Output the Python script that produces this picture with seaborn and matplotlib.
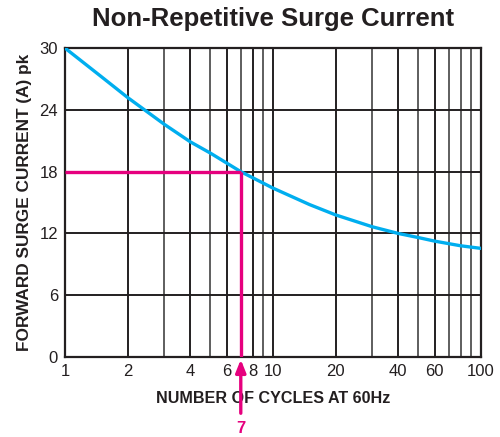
import matplotlib
matplotlib.use("Agg")
import matplotlib.pyplot as plt
import seaborn as sns
import pandas as pd
from matplotlib.ticker import FixedLocator, NullFormatter

# Surge current curve (cycles at 60 Hz vs peak forward surge current)
cycles = [1, 1.5, 2, 3, 4, 5, 7, 10, 15, 20, 30, 40, 50, 60, 80, 100]
current = [30.0, 27.2, 25.2, 22.6, 20.9, 19.8, 18.0, 16.4, 14.8, 13.8, 12.65, 12.0,
           11.6, 11.25, 10.8, 10.55]

x_ticks = [1, 2, 4, 6, 8, 10, 20, 40, 60, 100]
x_minor = [3, 5, 7, 9, 30, 50, 70, 80, 90]
y_ticks = [0, 6, 12, 18, 24, 30]

marker_cycles = 7
marker_current = 18

BLUE = "#00AEEF"
PINK = "#E6007E"
INK = "#231f20"

sns.set_style("white")
plt.rcParams["font.family"] = ["Liberation Sans", "DejaVu Sans"]

fig = plt.figure(figsize=(5.0, 4.37), dpi=100)
ax = fig.add_axes([0.13, 0.183, 0.832, 0.707])

df = pd.DataFrame({"cycles": cycles, "current": current})

ax.set_xscale("log")
ax.set_xlim(1, 100)
ax.set_ylim(0, 30)

# grid
for xv in x_ticks[1:-1]:
    ax.axvline(xv, color=INK, lw=1.4, zorder=1)
for xv in x_minor:
    ax.axvline(xv, color="#333333", lw=1.1, zorder=1)
for yv in y_ticks[1:-1]:
    ax.axhline(yv, color=INK, lw=1.4, zorder=1)

sns.lineplot(data=df, x="cycles", y="current", color=BLUE, lw=2.4, ax=ax, zorder=3)

# reference lines at 7 cycles / 18 A
ax.plot([1, marker_cycles], [marker_current, marker_current], color=PINK, lw=2.4,
        solid_capstyle="butt", zorder=4)
ax.plot([marker_cycles, marker_cycles], [0, marker_current], color=PINK, lw=2.4,
        solid_capstyle="butt", zorder=4)
trans = ax.get_xaxis_transform()
ax.annotate("", xy=(marker_cycles, -0.008), xycoords=trans,
            xytext=(marker_cycles, -0.182), textcoords=trans,
            arrowprops=dict(arrowstyle="-|>,head_length=0.75,head_width=0.3",
                            color=PINK, lw=2.4, shrinkA=0, shrinkB=0),
            annotation_clip=False, zorder=5)
ax.text(marker_cycles, -0.232, str(marker_cycles), transform=trans, ha="center",
        va="center", color=PINK, fontsize=12, fontweight="bold")

ax.xaxis.set_major_locator(FixedLocator(x_ticks))
ax.xaxis.set_minor_locator(FixedLocator(x_minor))
ax.xaxis.set_minor_formatter(NullFormatter())
ax.set_xticklabels([str(v) for v in x_ticks])
ax.set_yticks(y_ticks)
ax.tick_params(axis="both", length=0, labelsize=12, colors=INK, pad=5)
ax.tick_params(axis="x", which="minor", length=0)

for s in ax.spines.values():
    s.set_visible(True)
    s.set_color(INK)
    s.set_linewidth(1.6)

ax.set_xlabel("NUMBER OF CYCLES AT 60Hz", fontsize=11.6, fontweight="bold",
              color=INK, labelpad=9)
ax.set_ylabel("FORWARD SURGE CURRENT (A) pk", fontsize=12.4, fontweight="bold",
              color=INK, labelpad=5)
ax.set_title("Non-Repetitive Surge Current", fontsize=18.5, fontweight="bold",
             color=INK, pad=16)

fig.savefig("out.png", dpi=100)
